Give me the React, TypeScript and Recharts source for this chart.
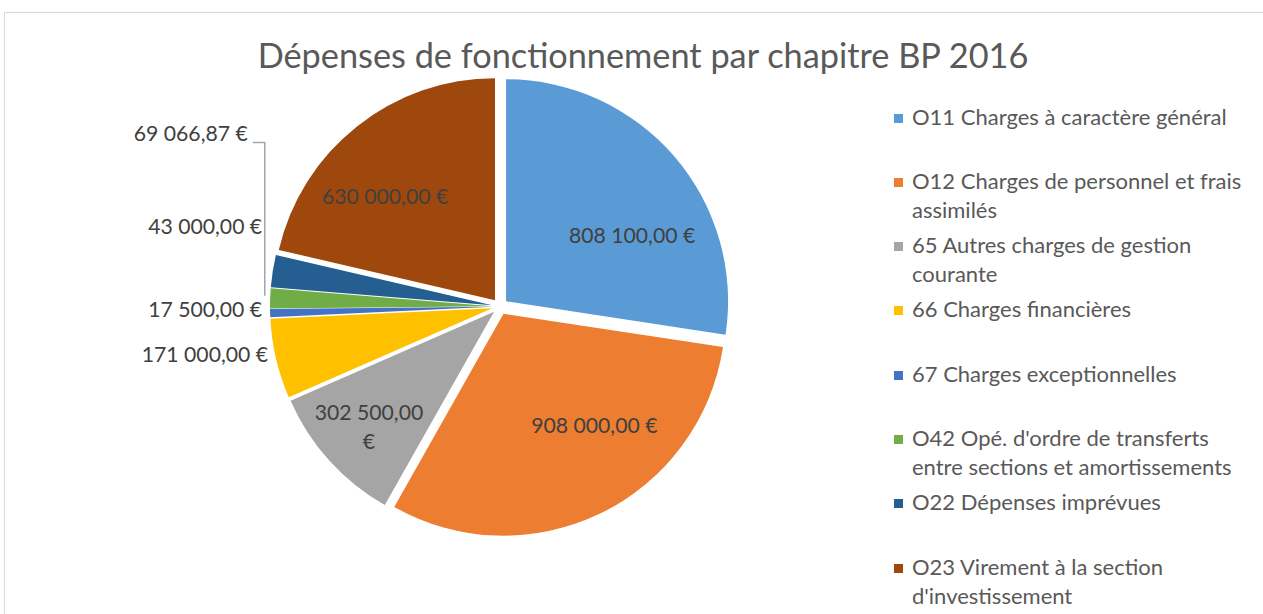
import { PieChart, Pie, Cell, Sector } from "recharts";

const categories = [
  "O11 Charges à caractère général",
  "O12 Charges de personnel et frais assimilés",
  "65 Autres charges de gestion courante",
  "66 Charges financières",
  "67 Charges exceptionnelles",
  "O42 Opé. d'ordre de transferts entre sections et amortissements",
  "O22 Dépenses imprévues",
  "O23 Virement à la section d'investissement",
];
const amounts = [808100, 908000, 302500, 171000, 17500, 43000, 69066.87, 630000];
const valueLabels = [
  "808 100,00 €",
  "908 000,00 €",
  "302 500,00 €",
  "171 000,00 €",
  "17 500,00 €",
  "43 000,00 €",
  "69 066,87 €",
  "630 000,00 €",
];
const colors = ["#5B9BD5", "#ED7D31", "#A5A5A5", "#FFC000", "#4472C4", "#70AD47", "#255E91", "#9E480E"];

const data = categories.map((name, i) => ({ name, value: amounts[i] }));

const FONT = "Lato, 'Noto Sans', sans-serif";
const EXPLODE = 8;
const RADIAN = Math.PI / 180;
const LABEL_SIZE = 21.2;

const ExplodedSector = (props: any) => {
  const { cx, cy, midAngle, innerRadius, outerRadius, startAngle, endAngle, fill } = props;
  const dx = EXPLODE * Math.cos(midAngle * RADIAN);
  const dy = -EXPLODE * Math.sin(midAngle * RADIAN);
  return (
    <Sector
      cx={cx + dx}
      cy={cy + dy}
      innerRadius={innerRadius}
      outerRadius={outerRadius}
      startAngle={startAngle}
      endAngle={endAngle}
      fill={fill}
      stroke="none"
    />
  );
};

// "best fit" placement of inside labels: angle shift (deg) and radius fraction
const insideFit: Record<number, [number, number]> = {
  0: [-13.8, 0.667],
  1: [11.5, 0.699],
  2: [1.4, 0.813],
  7: [8.8, 0.705],
};
// the two small outside labels were pushed upward to avoid overlap
const outsideLift: Record<number, number> = { 5: 76, 6: 169.5 };

const SliceLabel = (props: any) => {
  const { cx, cy, midAngle, outerRadius, percent, index, startAngle } = props;
  const text = valueLabels[index];
  const capShift = LABEL_SIZE * 0.36 - 4;
  if (percent > 0.08) {
    const [da, frac] = insideFit[index] ?? [0, 0.7];
    const a = (midAngle + da) * RADIAN;
    const r = outerRadius * frac;
    const x = cx + r * Math.cos(a);
    const y = cy - r * Math.sin(a);
    const parts = percent < 0.15 ? [text.slice(0, text.lastIndexOf(" ")), "€"] : [text];
    const top = y - ((parts.length - 1) * 29) / 2 + capShift;
    return (
      <text fill="#404040" fontSize={LABEL_SIZE} fontFamily={FONT} textAnchor="middle">
        {parts.map((p, k) => (
          <tspan key={k} x={x} y={top + k * 29}>
            {p}
          </tspan>
        ))}
      </text>
    );
  }
  const edge = outerRadius + EXPLODE;
  const ax = cx + edge * Math.cos(midAngle * RADIAN);
  const ay = cy - edge * Math.sin(midAngle * RADIAN);
  const lift = outsideLift[index] ?? 0;
  const ty = lift ? cy - lift : ay;
  let tx = ax - 8;
  let leader = null;
  if (index === 6) {
    const ex = cx + edge * Math.cos(startAngle * RADIAN) - 6;
    const ey = cy - edge * Math.sin(startAngle * RADIAN) + 8;
    tx = ex - 17;
    leader = (
      <polyline
        points={`${tx + 5},${ty + 5.5} ${ex},${ty + 5.5} ${ex},${ey}`}
        fill="none"
        stroke="#A6A6A6"
        strokeWidth={1.5}
      />
    );
  }
  return (
    <g>
      {leader}
      <text x={tx} y={ty + capShift} fill="#404040" fontSize={LABEL_SIZE} fontFamily={FONT} textAnchor="end">
        {text}
      </text>
    </g>
  );
};

const LegendList = () => (
  <div
    style={{
      position: "absolute",
      left: 894,
      top: 101.5,
      fontFamily: FONT,
      fontSize: 22,
      color: "#595959",
      lineHeight: "29px",
    }}
  >
    {categories.map((name, i) => (
      <div key={i} style={{ display: "flex", alignItems: "flex-start", height: 64.3 }}>
        <div
          style={{
            width: 9,
            height: 9,
            background: colors[i],
            marginTop: 12,
            marginRight: 9,
            flexShrink: 0,
          }}
        />
        <div style={{ width: 332 }}>{name}</div>
      </div>
    ))}
  </div>
);

export default function App() {
  return (
    <div style={{ position: "absolute", left: 0, top: 0, width: 1263, height: 614, overflow: "hidden", background: "#fff" }}>
      <div
        style={{
          position: "absolute",
          left: 4,
          top: 12,
          width: 1400,
          height: 800,
          border: "1.5px solid #D9D9D9",
        }}
      />
      <div
        style={{
          position: "absolute",
          left: 0,
          width: 1286,
          top: 34,
          textAlign: "center",
          fontFamily: FONT,
          fontSize: 34.3,
          lineHeight: "42px",
          color: "#595959",
          whiteSpace: "nowrap",
        }}
      >
        Dépenses de fonctionnement par chapitre BP 2016
      </div>
      <PieChart width={1263} height={614} style={{ position: "absolute", left: 0, top: 0 }}>
        <Pie
          data={data}
          dataKey="value"
          nameKey="name"
          cx={495}
          cy={301.5}
          outerRadius={222}
          startAngle={90}
          endAngle={-270}
          stroke="none"
          shape={ExplodedSector}
          activeShape={ExplodedSector}
          label={SliceLabel}
          labelLine={false}
          isAnimationActive={false}
        >
          {data.map((_, i) => (
            <Cell key={i} fill={colors[i]} />
          ))}
        </Pie>
      </PieChart>
      <LegendList />
    </div>
  );
}
